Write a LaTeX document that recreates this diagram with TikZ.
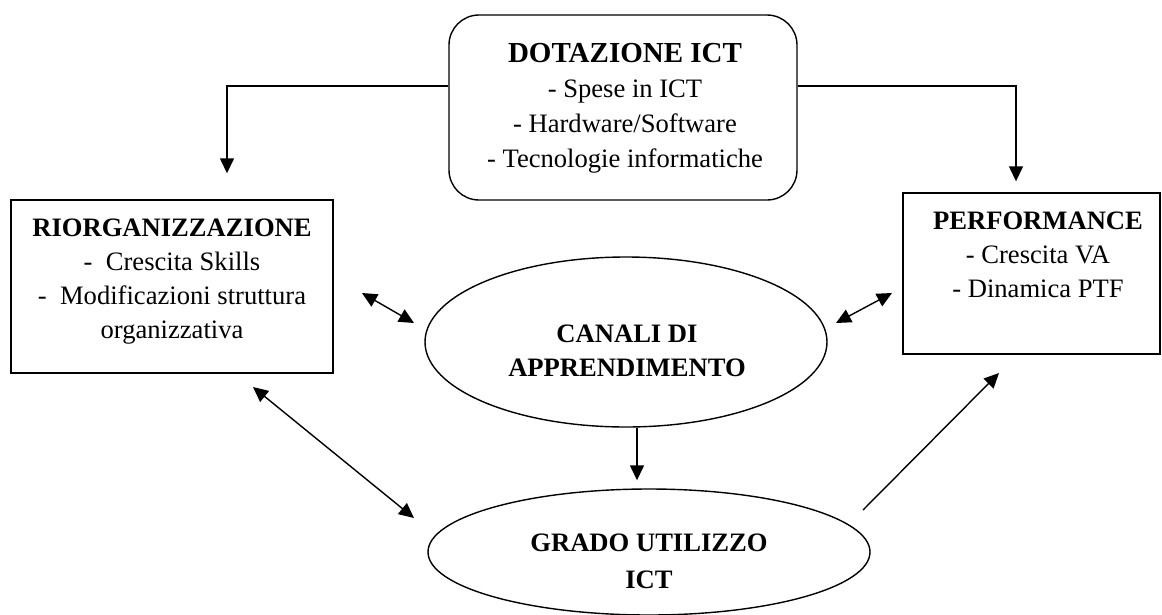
\documentclass[tikz,border=0pt]{standalone}
\usepackage{fontspec}
\setmainfont{Liberation Serif}
\usetikzlibrary{arrows.meta,shapes.geometric}
\begin{document}
\begin{tikzpicture}[x=1pt,y=-1pt,
  every node/.style={font=\fontsize{26.6}{34}\selectfont},
  frame/.style={draw, line width=1.4pt, inner sep=0pt},
  oval/.style={ellipse, draw, line width=1.4pt, inner sep=0pt},
  lbl/.style={align=center, inner sep=0pt},
  arr/.style={line width=1.4pt, -{Triangle[length=15pt,width=14pt]}},
  dbl/.style={line width=1.4pt, {Triangle[length=15pt,width=14pt]}-{Triangle[length=15pt,width=14pt]}}]
\useasboundingbox (0,0) rectangle (1162,614);

% boxes and ovals
\node[frame, rounded corners=30pt, minimum width=348pt, minimum height=185pt] (dot) at (623,107.5) {};
\node[lbl, font=\fontsize{26.6}{35}\selectfont] (dottxt) at (625,108)
  {{\fontsize{29}{35}\selectfont\bfseries DOTAZIONE ICT}\\- Spese in ICT\\- Hardware/Software\\- Tecnologie informatiche};

\node[frame, minimum width=322pt, minimum height=173pt] (rio) at (172,286.5) {};
\node[lbl, font=\fontsize{26.6}{33.7}\selectfont] (riotxt) at (172,281.6)
  {\textbf{RIORGANIZZAZIONE}\\-\ \ Crescita Skills\\-\ \ Modificazioni struttura\\organizzativa};

\node[frame, minimum width=257pt, minimum height=161pt] (perf) at (1031.5,273.5) {};
\node[lbl, font=\fontsize{26.6}{34}\selectfont] (perftxt) at (1038,255.2)
  {\textbf{PERFORMANCE}\\- Crescita VA\\- Dinamica PTF};

\node[oval, minimum width=402pt, minimum height=170pt] (canali) at (626,342) {};
\node[lbl, font=\fontsize{26.6}{34}\selectfont\bfseries] (canalitxt) at (627,351)
  {CANALI DI\\APPRENDIMENTO};

\node[oval, minimum width=442pt, minimum height=126pt] (grado) at (649,552) {};
\node[lbl, font=\fontsize{26.6}{37}\selectfont\bfseries] (gradotxt) at (649,561.7)
  {GRADO UTILIZZO\\ICT};

% connectors
\coordinate (j1) at (227,86);
\coordinate (j2) at (1016,86);
\draw[arr, shorten >=26pt] (dot.west |- j1) -| (rio.north -| j1);
\draw[arr, shorten >=11pt] (dot.east |- j2) -| (perf.north -| j2);

\coordinate (p1) at (362,293); \coordinate (p2) at (414,323);
\draw[dbl] (p1) -- (p2);
\coordinate (p3) at (836,323); \coordinate (p4) at (892,293);
\draw[dbl] (p3) -- (p4);
\coordinate (p5) at (253,387); \coordinate (p6) at (414,518);
\draw[dbl] (p5) -- (p6);
\draw[arr, shorten >=8pt] ([xshift=11pt]canali.south) -- ([xshift=11pt]canali.south |- grado.north);
\coordinate (p7) at (863,510); \coordinate (p8) at (999,373);
\draw[arr] (p7) -- (p8);
\end{tikzpicture}
\end{document}
